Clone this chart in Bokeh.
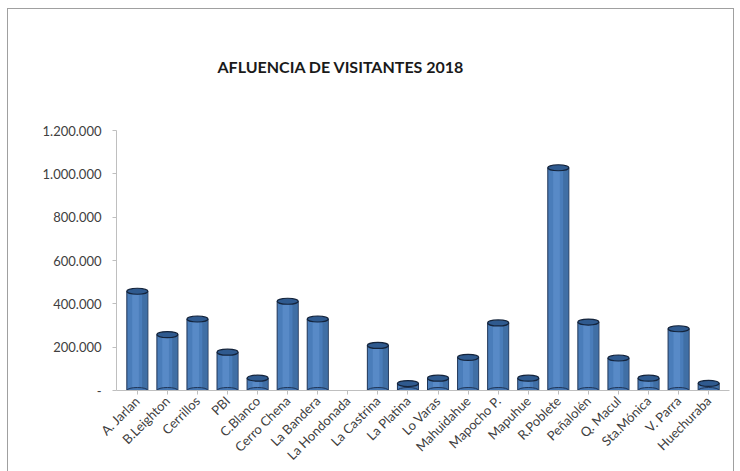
import math
from bokeh.plotting import figure
from bokeh.models import ColumnDataSource, FixedTicker, Title, FactorRange
from bokeh.transform import dodge
from bokeh.embed import file_html
from bokeh.resources import INLINE

categories = ["A. Jarlan", "B.Leighton", "Cerrillos", "PBI", "C.Blanco", "Cerro Chena",
              "La Bandera", "La Hondonada", "La Castrina", "La Platina", "Lo Varas",
              "Mahuidahue", "Mapocho P.", "Mapuhue", "R.Poblete", "Peñalolén",
              "Q. Macul", "Sta.Mónica", "V. Parra", "Huechuraba"]
visitantes = [458000, 258000, 330000, 177000, 57000, 412000,
              330000, 0, 208000, 32000, 57000,
              153000, 312000, 57000, 1028000, 316000,
              150000, 57000, 285000, 33000]
y_ticks = [0, 200000, 400000, 600000, 800000, 1000000, 1200000]
title_text = "AFLUENCIA DE VISITANTES  2018"

FONT = "Lato"
TXT = "#404040"

src = ColumnDataSource(dict(cat=categories, val=visitantes))
nz = [(c, v) for c, v in zip(categories, visitantes) if v > 0]
cap_src = ColumnDataSource(dict(cat=[c for c, _ in nz], val=[v for _, v in nz]))

p = figure(x_range=FactorRange(*categories, range_padding=0.0193),
           y_range=(0, 1200000), width=740, height=471,
           output_backend="svg", toolbar_location=None,
           min_border_left=116, min_border_right=11, min_border_top=130, min_border_bottom=80)
p.outline_line_color = None
p.grid.grid_line_color = None
p.background_fill_color = "white"
p.border_fill_color = None
p.styles = {
    "background-color": "white",
    "background-image": "linear-gradient(#a0a0a0,#a0a0a0), linear-gradient(#a0a0a0,#a0a0a0), linear-gradient(#a0a0a0,#a0a0a0)",
    "background-size": "1px 463px, 727px 1px, 1px 463px",
    "background-position": "7px 8px, 7px 8px, 733px 8px",
    "background-repeat": "no-repeat",
}

# cylinder body
p.vbar(x="cat", top="val", bottom=0, width=0.7, source=src,
       fill_color="#4A7DBA", line_color="#1F3455", line_width=1)
# shading: darker right side, lighter highlight
p.vbar(x=dodge("cat", 0.25, range=p.x_range), top="val", bottom=0, width=0.18, source=cap_src,
       fill_color="#3A6598", fill_alpha=0.6, line_color=None)
p.vbar(x=dodge("cat", -0.06, range=p.x_range), top="val", bottom=0, width=0.22, source=cap_src,
       fill_color="#6496D2", fill_alpha=0.55, line_color=None)
# bottom rounding
p.ellipse(x="cat", y=0, width=0.7, height=6, height_units="screen", source=cap_src,
          fill_color="#4576B2", line_color="#1F3455", line_width=1)
# top cap
p.ellipse(x="cat", y="val", width=0.7, height=6, height_units="screen", source=cap_src,
          fill_color="#2F5A8F", line_color="#14243C", line_width=1.2)

# axes
p.yaxis.ticker = FixedTicker(ticks=y_ticks)
p.yaxis.major_label_overrides = {t: ("-" if t == 0 else f"{t:,}".replace(",", ".")) for t in y_ticks}
for ax in (p.xaxis[0], p.yaxis[0]):
    ax.axis_line_color = "#BFBFBF"
    ax.major_tick_line_color = "#BFBFBF"
    ax.minor_tick_line_color = None
    ax.major_tick_out = 4
    ax.major_tick_in = 0
    ax.major_label_text_font = FONT
    ax.major_label_text_color = TXT
p.yaxis.major_label_text_font_size = "13px"
p.xaxis.major_label_text_font_size = "13px"
p.yaxis.major_label_standoff = 11
p.xaxis.major_label_orientation = math.pi / 4
p.xaxis.major_label_standoff = 4

p.add_layout(Title(text=title_text, align="left", offset=101, standoff=109,
                   text_font=FONT, text_font_style="bold", text_font_size="16px",
                   text_color="#1a1a1a"), "above")

open("out.html", "w").write(file_html(p, INLINE))
